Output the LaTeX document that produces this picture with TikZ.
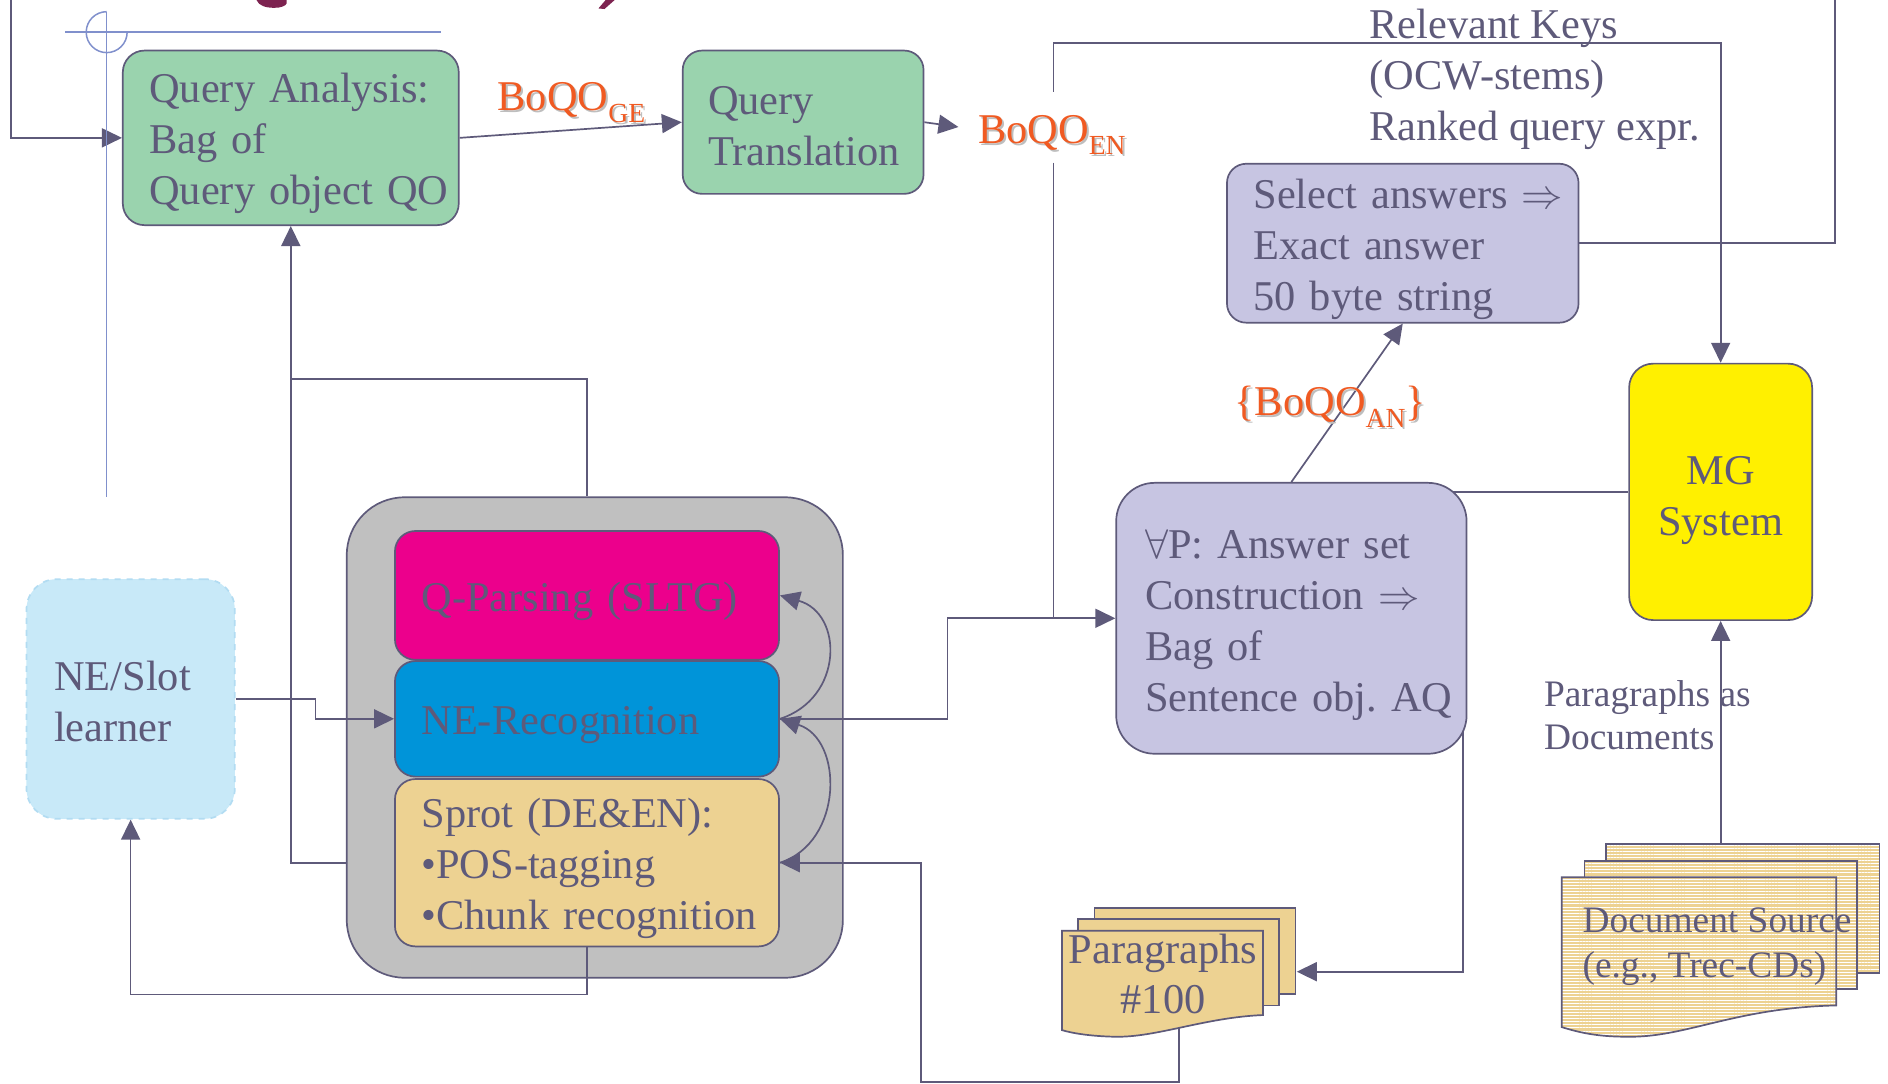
\documentclass[tikz,border=0pt]{standalone}
\usepackage{fontspec}
\setmainfont{Liberation Serif}
\usetikzlibrary{arrows.meta,patterns.meta}
\frenchspacing
\newlength\pxu \setlength\pxu{0.6021pt}
\definecolor{lc}{RGB}{94,90,122}
\definecolor{qagreen}{RGB}{154,211,174}
\definecolor{lav}{RGB}{199,197,226}
\definecolor{mgyellow}{RGB}{255,240,0}
\definecolor{qpmag}{RGB}{236,0,140}
\definecolor{neblue}{RGB}{0,148,217}
\definecolor{tanc}{RGB}{237,210,146}
\definecolor{grayc}{RGB}{192,192,192}
\definecolor{lnfill}{RGB}{200,233,248}
\definecolor{lnedge}{RGB}{178,220,242}
\definecolor{xblue}{RGB}{128,144,204}
\definecolor{orangec}{RGB}{240,90,34}
\definecolor{shadowc}{RGB}{190,190,190}
\definecolor{maroonc}{RGB}{125,35,80}
\newcommand\mainf{\fontsize{21.2}{25.5}\selectfont}
\newcommand\smallf{\fontsize{18.7}{21.7}\selectfont}
\newcommand\sbx[1]{\raisebox{-5.8pt}{\fontsize{13.8}{14}\selectfont #1}}
\newcommand\olab[3]{%
  \node[lab,text=shadowc,anchor=base west,xshift=1pt,yshift=-1pt] (#1s) at #2 {#3};%
  \node[lab,anchor=base west] (#1) at #2 {#3};}
\pgfdeclarelayer{bg}\pgfdeclarelayer{mid}\pgfsetlayers{bg,mid,main}
\begin{document}
\begin{tikzpicture}[x=0.6021pt,y=-0.6021pt,
  box/.style={draw=lc,line width=0.85pt,text=lc,font=\mainf,align=left,inner xsep=22\pxu,inner ysep=0pt},
  tshift/.style={execute at begin node={\rule{0pt}{#1}}},
  conn/.style={draw=lc,line width=0.85pt},
  arr/.style={conn,-{Triangle[length=10pt,width=9.5pt]}},
  lab/.style={font=\mainf,text=orangec,inner sep=0pt},
  plain/.style={font=\mainf,text=lc,align=left,inner sep=0pt},
  docs/.style={draw=lc,line width=0.85pt,preaction={fill=tanc},pattern={Lines[angle=0,distance=1.55pt,line width=0.45pt]},pattern color=white},
  doc/.style={draw=lc,line width=0.85pt,fill=tanc},
  xline/.style={draw=xblue,line width=0.75pt}]

\useasboundingbox (0,0) rectangle (1568,900);

% title fragments
\fill[maroonc] (213,0) .. controls (215,5) and (221,6.5) .. (228,6.5) .. controls (233,6.5) and (237,5) .. (238,3) -- (238,0) -- cycle;
\fill[maroonc] (503,0) -- (510.5,0) -- (502,7.5) -- (497,7) -- cycle;

% crosshair
\draw[xline] (54,26.7) -- (366,26.7);
\draw[xline] (88.6,9.7) -- (88.6,413);
\draw[xline] (88.6,9.7) arc[start angle=90,end angle=360,radius=17\pxu];

\begin{pgfonlayer}{bg}
\node[draw=lc,line width=0.85pt,fill=grayc,rounded corners=48\pxu,minimum width=412\pxu,minimum height=399\pxu,inner sep=0pt] (gray) at (494,612.5) {};
\end{pgfonlayer}

% boxes
\node[box,tshift=20.5pt,fill=qagreen,rounded corners=18\pxu,text width=235\pxu,minimum height=145\pxu] (qa) at (241.5,114.5)
  {\mbox{Query Analysis:}\\\mbox{Bag of}\\\mbox{Query object QO}};
\node[box,tshift=17.6pt,fill=qagreen,rounded corners=16\pxu,inner xsep=21\pxu,text width=158\pxu,minimum height=119\pxu] (qt) at (667,101.5)
  {Query\\Translation};
\node[box,tshift=20.5pt,fill=lav,rounded corners=16\pxu,text width=248\pxu,minimum height=132\pxu] (sel) at (1165,202)
  {\mbox{Select answers $\Rightarrow$}\\\mbox{Exact answer}\\\mbox{50 byte string}};
\node[box,tshift=22.4pt,fill=mgyellow,rounded corners=20\pxu,align=center,inner xsep=10\pxu,text width=132\pxu,minimum height=213\pxu] (mg) at (1429,408.5)
  {MG\\System};
\node[box,tshift=21.7pt,fill=lav,rounded corners=32\pxu,inner xsep=24\pxu,text width=243\pxu,minimum height=225\pxu] (ap) at (1072.5,513.5)
  {\mbox{$\forall$P: Answer set}\\\mbox{Construction $\Rightarrow$}\\\mbox{Bag of}\\\mbox{Sentence obj. AQ}};
\node[box,tshift=20.4pt,fill=qpmag,rounded corners=17\pxu,text width=275\pxu,minimum height=107\pxu] (qp) at (487.5,494.5)
  {\mbox{Q-Parsing (SLTG)}};
\node[box,tshift=20pt,fill=neblue,rounded corners=17\pxu,text width=275\pxu,minimum height=96\pxu] (ne) at (487.5,597)
  {\mbox{NE-Recognition}};
\node[box,tshift=20.4pt,fill=tanc,rounded corners=17\pxu,text width=275\pxu,minimum height=139\pxu] (sprot) at (487.5,716.5)
  {\mbox{Sprot (DE\&EN):}\\\mbox{\textbullet POS-tagging}\\\mbox{\textbullet Chunk recognition}};
\node[box,tshift=16.9pt,fill=lnfill,draw=lnedge,dashed,rounded corners=25\pxu,inner xsep=23\pxu,text width=127\pxu,minimum height=199\pxu] (ln) at (108.5,580.5)
  {NE/Slot\\learner};

% document stacks
\draw[doc] (909,754) rectangle (1076,825.6);
\draw[doc] (895,763) rectangle (1062,835);
\draw[doc] (882,773) -- (1049,773) -- (1049,843) .. controls (1000,845) and (960,862) .. (925,861) .. controls (905,860.5) and (890,858) .. (882,855.5) -- cycle;
\draw[docs] (1334,701) rectangle (1561,808);
\draw[docs] (1316,715) rectangle (1542,821.5);
\draw[docs] (1297,728.5) -- (1525,728.5) -- (1525,835) .. controls (1440,837) and (1400,862) .. (1351,861) .. controls (1325,861) and (1310,857) .. (1297,853) -- cycle;

% free texts
\node[plain,anchor=west] (rktext) at (1137,66) {Relevant Keys\\(OCW-stems)\\Ranked query expr.};
\node[plain,font=\smallf,anchor=west] (pad) at (1282,594) {Paragraphs as\\Documents};
\node[plain,font=\fontsize{18.7}{22.3}\selectfont,anchor=west] (dstext) at (1314,786) {Document Source\\(e.g., Trec-CDs)};
\node[plain,font=\fontsize{21.2}{24.7}\selectfont,align=center] (ptext) at (966,809) {Paragraphs\\\#100};

% orange labels
\olab{ge}{(413,92)}{BoQO\sbx{GE}}
\olab{en}{(812,119)}{BoQO\sbx{EN}}
\olab{an}{(1025,345)}{\{BoQO\sbx{AN}\}}

% coordinates
\coordinate (tl) at (9,-3);
\coordinate (tr) at (1524,-3);
\coordinate (enIn) at (796,105.5);
\coordinate (enU) at (875,76);
\coordinate (enD) at (875,135);
\coordinate (rkc) at (1429,36);
\coordinate (apStep) at (787,550);
\coordinate (apDown) at (1215,600);
\coordinate (pIn) at (1077,807);
\coordinate (pOut) at (979,845);
\coordinate (botC) at (765,898.5);
\coordinate (dsTop) at (1429,710);
\coordinate (lstep) at (262,597);
\coordinate (c2) at (108.5,826);
\coordinate (c3) at (241.5,315);

\begin{pgfonlayer}{mid}
\draw[arr] (tl) |- (qa.west);
\draw[conn] (sel.east) -| (tr);
\draw[arr] (qa.east) -- (qt.west);
\draw[arr] (qt.east) -- (enIn);
\draw[arr] (enU) |- (rkc) -- (mg.north);
\draw[conn] (enD) -- (enD |- ap.west);
\draw[arr] (ne.east) -| (apStep) |- (ap.west);
\draw[arr] (ap.north) -- (sel.south);
\draw[conn] (ap.center |- mg.west) -- (mg.west);
\draw[arr] (apDown) |- (pIn);
\draw[arr] (pOut) |- (botC) |- (sprot.east);
\draw[arr] (dsTop) -- (mg.south);
\draw[arr] (ln.east) -| (lstep) -- (ne.west);
\draw[arr] (sprot.south) |- (c2) -- (ln.south);
\draw[conn] (sprot.south |- gray.north) |- (c3);
\draw[arr] (gray.west |- sprot.east) -| (qa.south);
\draw[arr] (ne.east) .. controls +(53,-17) and +(53,15) .. (qp.east);
\draw[arr] (sprot.east) .. controls +(53,-17) and +(53,17) .. (ne.east);
\end{pgfonlayer}
\end{tikzpicture}
\end{document}
